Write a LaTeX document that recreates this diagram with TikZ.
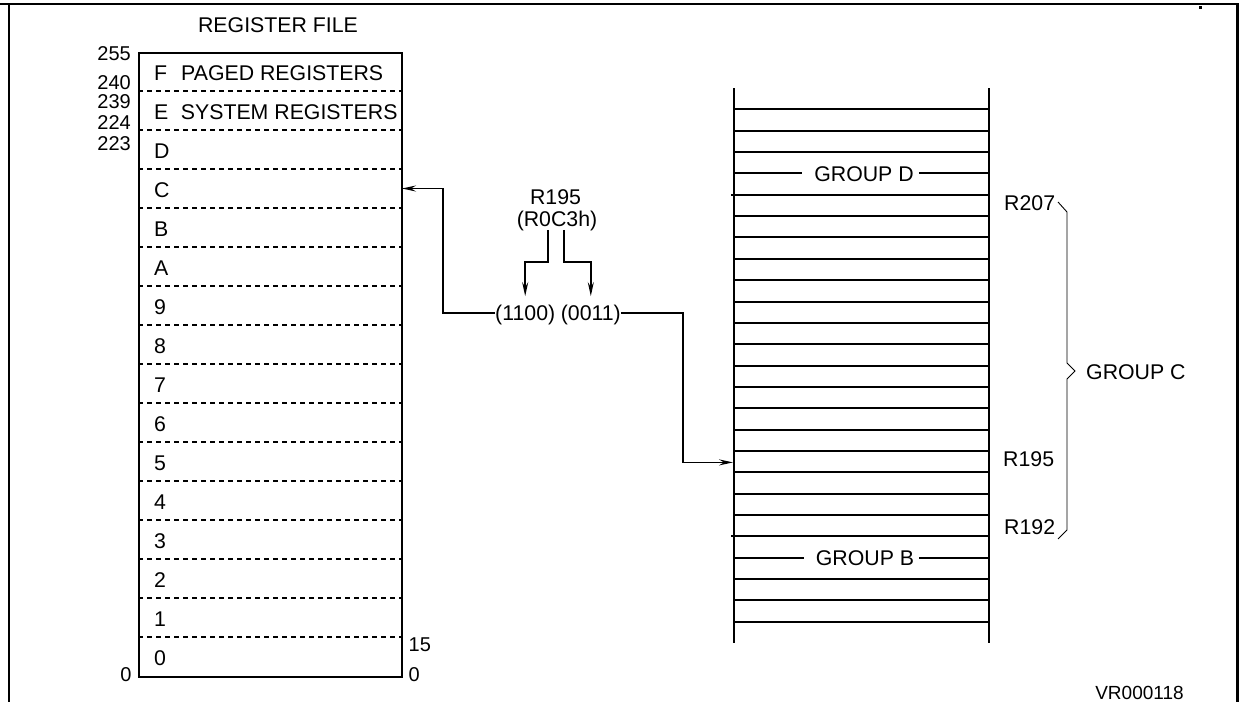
\documentclass[tikz,border=0pt]{standalone}
\usepackage{fontspec}
\setmainfont{Liberation Sans}
\usetikzlibrary{arrows.meta}
\begin{document}
\begin{tikzpicture}[x=1pt,y=-1pt,
  lbl/.style={inner sep=0pt, text height=15.3pt, text depth=0pt, font=\fontsize{21.3}{24}\selectfont},
  numlbl/.style={inner sep=0pt, text height=14.2pt, text depth=0pt, font=\fontsize{20}{22}\selectfont},
  smalllbl/.style={inner sep=0pt, text height=13.6pt, text depth=0pt, font=\fontsize{19}{22}\selectfont},
  frameline/.style={line width=2.6pt},
  boxline/.style={line width=2pt},
  divline/.style={line width=1.6pt, dash pattern=on 5pt off 4pt},
  rung/.style={line width=2pt},
  conn/.style={line width=1.8pt, -{Stealth[length=14pt,width=6pt,inset=5pt]}},
  brace/.style={line width=0.9pt},
]
\useasboundingbox (0,0) rectangle (1244,702);

% outer frame
\draw[frameline] (0,4) -- (1239,4);
\draw[frameline] (9,4) -- (9,702);
\draw[frameline] (1237.5,4) -- (1237.5,702);
\fill (1199,6) rectangle (1201.5,8.5);

% ---------------- register file ----------------
\node[lbl] (title) at (278,24.5) {REGISTER FILE};
\node[draw, boxline, inner sep=0pt, minimum width=263pt, minimum height=624pt, anchor=north west] (rf) at (138,52) {};
\foreach \k in {1,...,15}
  \draw[divline] (138,52+39*\k) -- (401,52+39*\k);

\node[lbl, anchor=west] (rowF) at (154,73) {F\hspace{14pt}PAGED REGISTERS};
\node[lbl, anchor=west] (rowE) at (154,112) {E\hspace{12.5pt}SYSTEM REGISTERS};
\foreach \t [count=\i from 2] in {D,C,B,A,9,8,7,6,5,4,3,2,1,0}
  \node[lbl, anchor=west] (row\t) at (154,52+39*\i+19.5+1) {\t};
\coordinate (rowCin) at (402,188.5);

% address numbers
\node[numlbl, anchor=east] (n255) at (131,53.5) {255};
\node[numlbl, anchor=east] (n240) at (131,82.5) {240};
\node[numlbl, anchor=east] (n239) at (131,101) {239};
\node[numlbl, anchor=east] (n224) at (131,122) {224};
\node[numlbl, anchor=east] (n223) at (131,143) {223};
\node[numlbl] (n0l) at (126,674) {0};
\node[numlbl, anchor=west] (n15) at (408.5,644) {15};
\node[numlbl, anchor=west] (n0r) at (408.5,674) {0};

% ---------------- address decode ----------------
\node[lbl] (r195) at (555.5,197) {R195};
\node[lbl] (r0c3h) at (557,219) {(R0C3h)};
\node[lbl, anchor=west] (n1100) at (495,313) {(1100)};
\node[lbl, anchor=east] (n0011) at (621,313) {(0011)};

\draw[conn] ([xshift=-9pt,yshift=-3pt]r0c3h.south) -- ++(0,32) -| ([yshift=9pt]n1100.north);
\draw[conn] ([xshift=7pt,yshift=-3pt]r0c3h.south) -- ++(0,32) -| ([yshift=9pt]n0011.north);
\draw[conn] (n1100.west) -- ++(-52,0) |- (rowCin);

% ---------------- register group ladder ----------------
\coordinate (ladTL) at (734,88);
\coordinate (ladTR) at (989,88);
\coordinate (ladBL) at (734,643.1);
\coordinate (ladBR) at (989,643.1);
\draw[rung] (ladTL) -- (ladBL);
\draw[rung] (ladTR) -- (ladBR);
\foreach \k in {1,2,3,6,7,8,9,10,11,12,13,14,15,16,17,18,19,20,23,24,25}
  \draw[rung] (734,88+21.35*\k) -- (989,88+21.35*\k);
\draw[rung] (731,88+21.35*5) -- (989,88+21.35*5);
\draw[rung] (731,88+21.35*21) -- (989,88+21.35*21);

\node[lbl] (gD) at (864,88+21.35*4) {GROUP D};
\draw[rung] (734,88+21.35*4) -- ([xshift=-12pt]gD.west);
\draw[rung] ([xshift=5pt]gD.east) -- (989,88+21.35*4);
\node[lbl] (gB) at (865,88+21.35*22) {GROUP B};
\draw[rung] (734,88+21.35*22) -- ([xshift=-12pt]gB.west);
\draw[rung] ([xshift=5pt]gB.east) -- (989,88+21.35*22);

\coordinate (bendR) at (683,462.4);
\coordinate (r195in) at (733,462.4);
\draw[conn] (n0011.east) -| (bendR) -- (r195in);

% register labels and brace
\node[lbl, anchor=west] (lR207) at (1004,203) {R207};
\node[lbl, anchor=west] (lR195) at (1003,459) {R195};
\node[lbl, anchor=west] (lR192) at (1004,527) {R192};
\draw[brace] (1058,202) -- (1067,212) -- (1067,363) -- (1075,371) -- (1067,379) -- (1067,530) -- (1058,539);
\node[lbl, anchor=west] (gC) at (1086,372) {GROUP C};

\node[smalllbl] (vr) at (1139.5,693) {VR000118};
\end{tikzpicture}
\end{document}
